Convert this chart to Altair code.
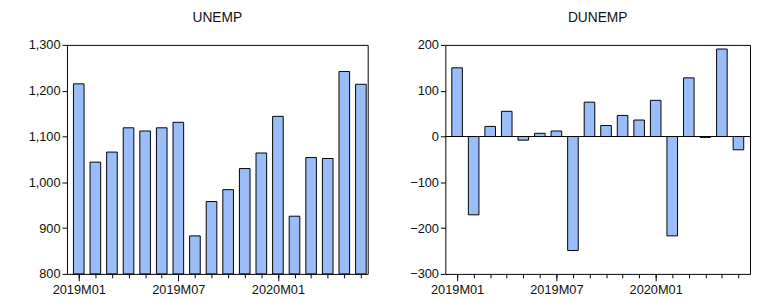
import altair as alt
import pandas as pd

months = ["2019M01", "2019M02", "2019M03", "2019M04", "2019M05", "2019M06",
          "2019M07", "2019M08", "2019M09", "2019M10", "2019M11", "2019M12",
          "2020M01", "2020M02", "2020M03", "2020M04", "2020M05", "2020M06"]
unemp = [1215, 1044, 1066, 1119, 1112, 1119, 1131, 883, 958, 984, 1030, 1064,
         1144, 926, 1054, 1052, 1242, 1214]
dunemp = [150, -171, 22, 55, -8, 7, 12, -249, 75, 24, 46, 36, 79, -217, 128, -2, 191, -29]
label_months = ["2019M01", "2019M07", "2020M01"]

idx = list(range(len(months)))
df1 = pd.DataFrame({"i": idx, "m": months, "v": unemp, "base": [800] * len(idx)})
df2 = pd.DataFrame({"i": idx, "m": months, "v": dunemp, "base": [0] * len(idx)})
for d in (df1, df2):
    d["lo"] = d["i"] - 0.32
    d["hi"] = d["i"] + 0.32

major_idx = [months.index(m) for m in label_months]
label_expr = "{" + ",".join(f"'{i}':'{months[i]}'" for i in major_idx) + "}[datum.value] || ''"

FONT = "Liberation Sans"
BAR = "#9ABCF8"
LBL = 13


def panel(df, title, ydom, yticks, yfmt, xdom, w, h):
    xs = alt.Scale(domain=xdom, nice=False, zero=False)
    ys = alt.Scale(domain=ydom, nice=False, zero=False)
    yaxis = alt.Axis(values=yticks, format=yfmt, tickSize=5, domain=False,
                     grid=False, title=None, labelFont=FONT, labelFontSize=LBL,
                     labelColor="#111", tickColor="black", labelPadding=2)
    bars = alt.Chart(df).mark_bar(fill=BAR, stroke="black", strokeWidth=1).encode(
        x=alt.X("lo:Q", scale=xs,
                axis=alt.Axis(values=idx, labels=False, tickSize=4, domain=False,
                              grid=False, title=None, orient="bottom",
                              tickColor="black")),
        x2="hi:Q",
        y=alt.Y("base:Q", scale=ys, axis=yaxis),
        y2="v:Q",
    )
    layers = [bars]
    if ydom[0] < 0:
        zero = alt.Chart(pd.DataFrame({"z": [0]})).mark_rule(color="black", strokeWidth=1).encode(
            y=alt.Y("z:Q", scale=ys, axis=yaxis)
        )
        layers.append(zero)
    major = alt.Chart(pd.DataFrame({"i": major_idx})).mark_point(opacity=0).encode(
        x=alt.X("i:Q", scale=xs,
                axis=alt.Axis(values=major_idx, labelExpr=label_expr, tickSize=7,
                              domain=False, grid=False, title=None, orient="bottom",
                              labelFont=FONT, labelFontSize=LBL, labelColor="#111",
                              tickColor="black", labelPadding=3)),
    )
    layers.append(major)
    return alt.layer(*layers).resolve_axis(x="independent").properties(
        width=w, height=h,
        title=alt.TitleParams(title, font=FONT, fontSize=14, fontWeight="normal",
                              color="#111", offset=14),
    )


left = panel(df1, "UNEMP", [800, 1300], [800, 900, 1000, 1100, 1200, 1300], ",d",
             [-0.71, 17.41], 306, 233)
right = panel(df2, "DUNEMP", [-300, 200], [-300, -200, -100, 0, 100, 200], "d",
              [-0.71, 17.7], 310, 233)

chart = alt.hconcat(left, right, spacing=41).properties(
    padding={"left": 19, "top": 0, "right": 0, "bottom": 0},
    background="white",
).configure_view(stroke="black", strokeWidth=1)

chart.save("out.html", embed_options={"renderer": "svg", "actions": False})
